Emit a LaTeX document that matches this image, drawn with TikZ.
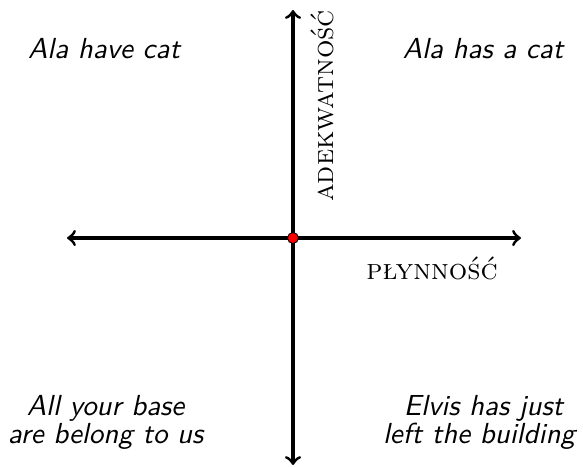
\documentclass[tikz,border=0pt]{standalone}
\usepackage{fontspec}
\begin{document}
\begin{tikzpicture}[x=0.345pt,y=-0.345pt,
  axis/.style={line width=1.05pt,<->},
  quad/.style={font=\sffamily\itshape,align=center,inner sep=0pt},
  axlabel/.style={font=\scshape,inner sep=0pt}]
\useasboundingbox (0,0) rectangle (583,466);
\coordinate (O) at (293,238);
\coordinate (L) at (67,238);
\coordinate (R) at (521,238);
\coordinate (T) at (293,10);
\coordinate (B) at (293,465);
\draw[axis] (L) -- (R);
\draw[axis] (T) -- (B);
\node[circle,fill=red,draw=black,line width=0.3pt,minimum size=11*0.345pt,inner sep=0pt] (dot) at (O) {};
\node[axlabel,rotate=90] (ylab) at (322,106) {adekwatność};
\node[axlabel] (xlab) at (432,268) {płynność};
\node[quad,anchor=base] (q1) at (104,58) {Ala have cat};
\node[quad,anchor=base] (q2) at (483,58) {Ala has a cat};
\node[quad,anchor=base] (q3a) at (105.5,415) {All your base};
\node[quad,anchor=base] (q3b) at (105.5,443) {are belong to us};
\node[quad,anchor=base] (q4a) at (483.5,415) {Elvis has just};
\node[quad,anchor=base] (q4b) at (479,443) {left the building};
\end{tikzpicture}
\end{document}
